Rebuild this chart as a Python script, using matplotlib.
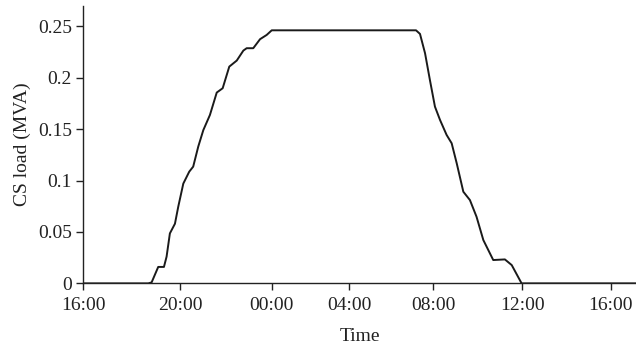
import matplotlib
matplotlib.use("Agg")
import matplotlib.pyplot as plt
import numpy as np

# Time in hours after 16:00 (first day)
hours = [0.0, 2.97, 3.12, 3.42, 3.68, 3.80, 3.95, 4.18, 4.33, 4.56, 4.83, 5.01,
         5.24, 5.47, 5.77, 6.08, 6.35, 6.65, 6.99, 7.29, 7.44, 7.74, 8.05, 8.35,
         8.58, 15.14, 15.32, 15.55, 15.77, 16.00, 16.23, 16.53, 16.76, 16.99,
         17.29, 17.59, 17.89, 18.20, 18.65, 19.18, 19.49, 19.94, 25.14]
load = [0.0, 0.0, 0.001, 0.016, 0.016, 0.026, 0.0486, 0.058, 0.0745, 0.097,
        0.1086, 0.1135, 0.133, 0.149, 0.1637, 0.1855, 0.1897, 0.2107, 0.2166,
        0.2263, 0.2286, 0.2286, 0.2374, 0.2415, 0.246, 0.246, 0.2425, 0.2237,
        0.1978, 0.1718, 0.1589, 0.1443, 0.1362, 0.1167, 0.0891, 0.081, 0.0648,
        0.0421, 0.0227, 0.0233, 0.0178, 0.0, 0.0]

tick_pos = [0.0, 4.41, 8.57, 12.10, 15.92, 19.98, 24.0]
tick_labels = ["16:00", "20:00", "00:00", "04:00", "08:00", "12:00", "16:00"]
y_ticks = [0, 0.05, 0.1, 0.15, 0.2, 0.25]
y_tick_labels = ["0", "0.05", "0.1", "0.15", "0.2", "0.25"]

plt.rcParams['font.family'] = ['Liberation Serif', 'DejaVu Serif']

fig = plt.figure(figsize=(6.36, 3.49), dpi=100)
ax = fig.add_axes([0.1305, 0.188, 0.8695, 0.795])

ax.plot(hours, load, color="#1a1a1a", lw=1.4, solid_joinstyle="round",
        solid_capstyle="round")

ax.set_xlim(0, 25.14)
ax.set_ylim(0, 0.2697)
ax.set_xticks(tick_pos)
ax.set_xticklabels(tick_labels)
ax.set_yticks(y_ticks)
ax.set_yticklabels(y_tick_labels)

for s in ["top", "right"]:
    ax.spines[s].set_visible(False)
for s in ["left", "bottom"]:
    ax.spines[s].set_color("#222222")
    ax.spines[s].set_linewidth(1.0)

ax.tick_params(axis="both", direction="out", length=5, width=1.0,
               colors="#222222", labelsize=14, labelcolor="#222222")
ax.tick_params(axis="x", pad=5)
ax.tick_params(axis="y", pad=3)

ax.set_xlabel("Time", fontsize=14, color="#222222", labelpad=10)
ax.set_ylabel("CS load (MVA)", fontsize=14, color="#222222", labelpad=5)

fig.savefig("out.png", dpi=100)
